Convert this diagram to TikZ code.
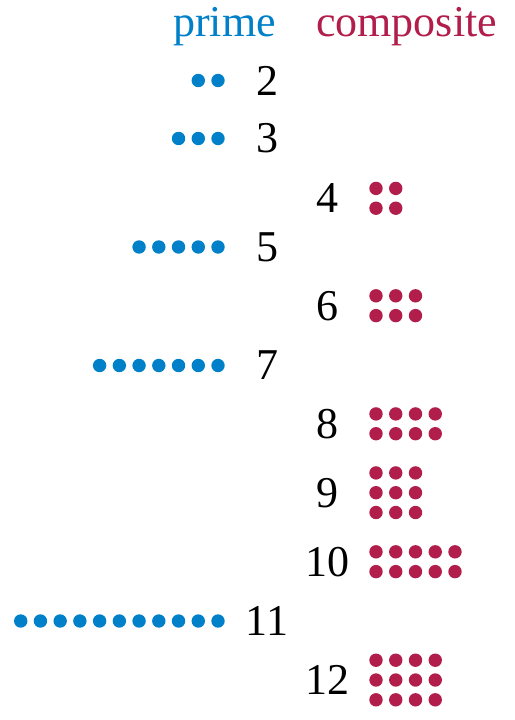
\documentclass[tikz,border=0pt]{standalone}
\usepackage{fontspec}
\setmainfont{Liberation Serif}
\definecolor{primeblue}{RGB}{0,128,200}
\definecolor{compred}{RGB}{178,30,75}
\begin{document}
\begin{tikzpicture}[x=1pt,y=-1pt,
  num/.style={font=\fontsize{44}{44}\selectfont, inner sep=0pt, text=black},
  head/.style={font=\fontsize{44}{44}\selectfont, inner sep=0pt},
  pdot/.style={fill=primeblue},
  cdot/.style={fill=compred}]
\useasboundingbox (0,0) rectangle (514,720);
\node[head,text=primeblue,anchor=base east] (prime) at (276,36) {prime};
\node[head,text=compred,anchor=base west] (comp) at (316,36) {composite};
\foreach \n/\y in {2/80.5,3/138.5,5/247,7/365.5,11/621}{
  \node[num] (n\n) at (267,\y) {\n};
  \foreach \i in {1,...,\n}{
    \fill[pdot] ({218-19.73*(\i-1)},\y) circle (6.7pt);
  }
}
\foreach \n/\c/\r/\y in {4/2/2/198.3,6/3/2/305.7,8/4/2/423.8,9/3/3/492.7,10/5/2/561.7,12/4/3/680}{
  \node[num] (n\n) at (327,\y) {\n};
  \foreach \i in {1,...,\c}{
    \foreach \j in {1,...,\r}{
      \fill[cdot] ({376+19.75*(\i-1)},{\y+19.8*(\j-(\r+1)/2)}) circle (6.7pt);
    }
  }
}
\end{tikzpicture}
\end{document}
